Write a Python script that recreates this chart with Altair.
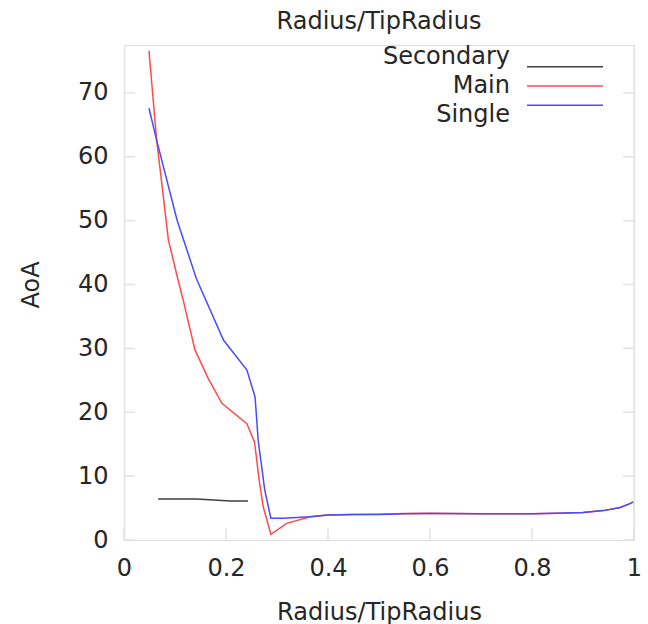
import altair as alt
import pandas as pd

# ---- data ----
series_names = ["Secondary", "Main", "Single"]
series_colors = ["#404040", "#ff4a4a", "#4a4aff"]

secondary_x = [0.067, 0.143, 0.208, 0.243]
secondary_y = [6.4, 6.4, 6.1, 6.1]

main_x = [0.049, 0.064, 0.074, 0.087, 0.106, 0.116, 0.139, 0.165, 0.192, 0.241, 0.256,
          0.265, 0.273, 0.288, 0.319, 0.365, 0.40, 0.45, 0.50, 0.55, 0.60, 0.70, 0.80,
          0.85, 0.90, 0.94, 0.973, 0.992, 1.0]
main_y = [76.6, 62.6, 55.9, 47.0, 40.7, 37.6, 29.8, 25.3, 21.4, 18.2, 15.3,
          9.4, 5.2, 0.9, 2.6, 3.65, 3.9, 4.0, 4.05, 4.15, 4.2, 4.1, 4.1,
          4.2, 4.3, 4.6, 5.1, 5.7, 6.0]

single_x = [0.049, 0.064, 0.104, 0.142, 0.195, 0.241, 0.257, 0.263,
            0.276, 0.288, 0.312, 0.365, 0.40, 0.45, 0.50, 0.55, 0.60, 0.70, 0.80,
            0.85, 0.90, 0.94, 0.973, 0.992, 1.0]
single_y = [67.6, 62.6, 50.1, 40.9, 31.3, 26.6, 22.4, 15.7,
            7.8, 3.4, 3.4, 3.65, 3.9, 4.0, 4.0, 4.1, 4.15, 4.1, 4.1,
            4.2, 4.3, 4.6, 5.1, 5.7, 6.0]

x_ticks = [0, 0.2, 0.4, 0.6, 0.8, 1]
y_ticks = [0, 10, 20, 30, 40, 50, 60, 70]

# ---- build table ----
rows = []
for name, xs, ys in [("Secondary", secondary_x, secondary_y),
                     ("Main", main_x, main_y),
                     ("Single", single_x, single_y)]:
    for i, (xv, yv) in enumerate(zip(xs, ys)):
        rows.append({"series": name, "r": xv, "aoa": yv, "i": i})
df = pd.DataFrame(rows)

W, H = 510, 495
FONT = "DejaVu Sans"
FS = 24
TXT = "#262626"
FRAME = "#e2e2e2"

xscale = alt.Scale(domain=[0, 1], nice=False, zero=False)
yscale = alt.Scale(domain=[0, 77.5], nice=False)
cscale = alt.Scale(domain=series_names, range=series_colors)

lines = alt.Chart(df).mark_line(strokeWidth=1.5).encode(
    x=alt.X("r:Q", scale=xscale,
            axis=alt.Axis(title="Radius/TipRadius", values=x_ticks, grid=False,
                          format="~g",
                          domain=False, ticks=False, labelPadding=16,
                          labelFontSize=FS, titleFontSize=FS, labelFont=FONT,
                          titleFont=FONT, labelColor=TXT, titleColor=TXT,
                          titleFontWeight="normal", titlePadding=20,
                          labelFlush=False)),
    y=alt.Y("aoa:Q", scale=yscale,
            axis=alt.Axis(title="AoA", values=y_ticks, grid=False,
                          domain=True, domainColor=FRAME, domainWidth=1.5,
                          ticks=False, labelPadding=16,
                          labelFontSize=FS, titleFontSize=FS, labelFont=FONT,
                          titleFont=FONT, labelColor=TXT, titleColor=TXT,
                          titleFontWeight="normal", titlePadding=34,
                          titleY=H / 2 - 8)),
    color=alt.Color("series:N", scale=cscale, legend=None),
    order="i:Q",
)

tick_x_df = pd.DataFrame({"t": x_ticks})
tick_y_df = pd.DataFrame({"t": y_ticks})

bottom_ticks = alt.Chart(tick_x_df).mark_rule(color=FRAME, strokeWidth=1.5).encode(
    x=alt.X("t:Q", scale=xscale), y=alt.value(H - 12), y2=alt.value(H))
left_ticks = alt.Chart(tick_y_df).mark_rule(color=FRAME, strokeWidth=1.5).encode(
    y=alt.Y("t:Q", scale=yscale, axis=None), x=alt.value(0), x2=alt.value(11))
right_ticks = alt.Chart(tick_y_df).mark_rule(color=FRAME, strokeWidth=1.5).encode(
    y=alt.Y("t:Q", scale=yscale, axis=None), x=alt.value(W - 11), x2=alt.value(W))
right_frame = alt.Chart(pd.DataFrame({"t": [1]})).mark_rule(color=FRAME, strokeWidth=1.5).encode(
    x=alt.X("t:Q", scale=xscale))

leg_df = pd.DataFrame({"series": series_names})
leg_y = alt.Y("series:N", scale=alt.Scale(domain=series_names, range=[12, 70], padding=0), axis=None)
leg_text = alt.Chart(leg_df).mark_text(align="right", baseline="middle", fontSize=FS,
                                        font=FONT, color=TXT).encode(
    x=alt.value(386), y=leg_y, text="series:N")
leg_rule = alt.Chart(leg_df).mark_rule(strokeWidth=1.5).encode(
    x=alt.value(403), x2=alt.value(479), y=leg_y,
    color=alt.Color("series:N", scale=cscale, legend=None))

chart = alt.layer(lines, bottom_ticks, left_ticks, right_ticks, right_frame,
                  leg_text, leg_rule).resolve_scale(y="independent").properties(
    width=W, height=H,
    title=alt.Title("Radius/TipRadius", fontSize=FS, font=FONT, color=TXT,
                    fontWeight="normal", anchor="middle", offset=10),
    autosize=alt.AutoSizeParams(type="none"),
    padding={"left": 124, "top": 45, "right": 14, "bottom": 84},
).configure_view(stroke=None).configure(background="white")

chart.save("out.html", embed_options={"renderer": "svg", "actions": False})
